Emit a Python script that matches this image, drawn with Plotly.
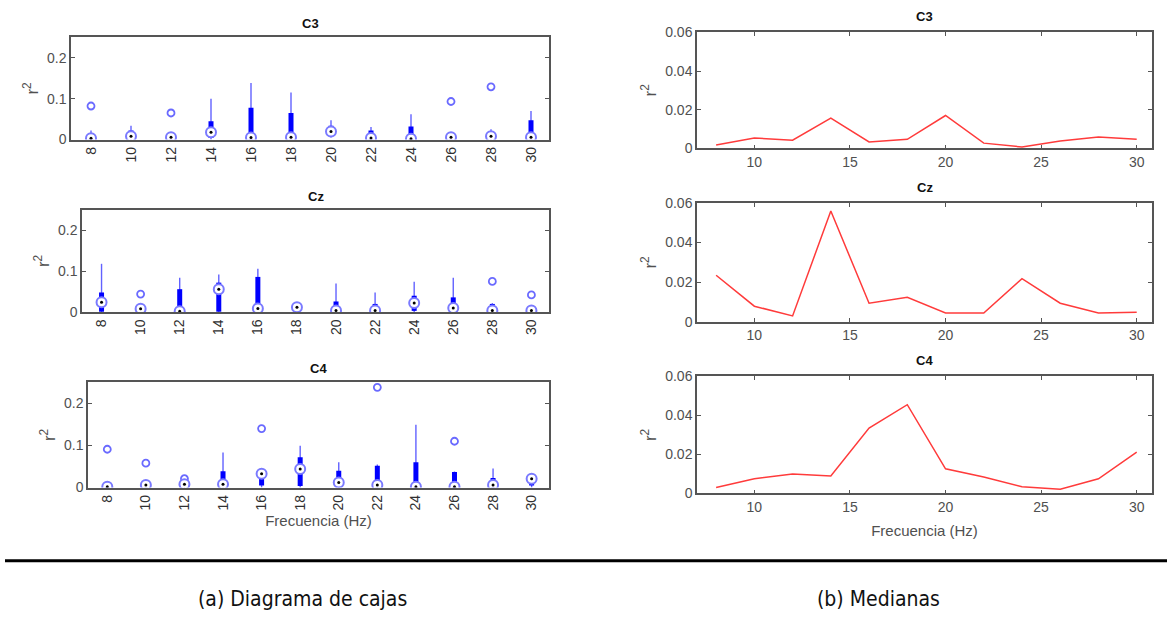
import plotly.graph_objects as go

W, H = 1167, 633

freqs = [8, 10, 12, 14, 16, 18, 20, 22, 24, 26, 28, 30]
freq_labels = [str(f) for f in freqs]
channels = ["C3", "Cz", "C4"]

# Box-plot statistics (left column)
c3_wlo = [0, 0, 0, 0, 0, 0, 0.005, 0, 0, 0, 0, 0]
c3_q1 = [0.0005, 0.002, 0.001, 0.004, 0.0005, 0.001, 0.01, 0.0005, 0, 0.001, 0.002, 0.001]
c3_med = [0.003, 0.008, 0.006, 0.018, 0.005, 0.006, 0.02, 0.004, 0.002, 0.006, 0.008, 0.006]
c3_q3 = [0.015, 0.022, 0.009, 0.045, 0.078, 0.065, 0.034, 0.022, 0.032, 0.01, 0.02, 0.047]
c3_whi = [0.022, 0.034, 0.012, 0.1, 0.138, 0.115, 0.047, 0.031, 0.062, 0.012, 0.025, 0.07]
c3_out_x = ["8", "12", "26", "28"]
c3_out_y = [0.082, 0.065, 0.093, 0.129]

cz_wlo = [0, 0, 0, 0, 0, 0, 0, 0, 0, 0, 0, 0]
cz_q1 = [0.001, 0.001, 0, 0.001, 0.001, 0.005, 0, 0, 0.003, 0.001, 0, 0]
cz_med = [0.024, 0.008, 0.002, 0.056, 0.009, 0.012, 0.004, 0.004, 0.022, 0.01, 0.004, 0.004]
cz_q3 = [0.048, 0.014, 0.056, 0.072, 0.086, 0.018, 0.026, 0.02, 0.04, 0.036, 0.02, 0.012]
cz_whi = [0.118, 0.018, 0.084, 0.092, 0.106, 0.024, 0.07, 0.048, 0.074, 0.084, 0.022, 0.014]
cz_out_x = ["10", "28", "30"]
cz_out_y = [0.044, 0.075, 0.042]

c4_wlo = [0, 0, 0, 0, 0, 0, 0, 0, 0, 0, 0, 0]
c4_q1 = [0, 0.001, 0.003, 0.002, 0.005, 0.004, 0.003, 0.001, 0, 0, 0, 0.005]
c4_med = [0.002, 0.006, 0.008, 0.008, 0.033, 0.044, 0.012, 0.006, 0.002, 0.002, 0.006, 0.021]
c4_q3 = [0.008, 0.01, 0.012, 0.039, 0.042, 0.072, 0.04, 0.052, 0.06, 0.037, 0.023, 0.027]
c4_whi = [0.01, 0.012, 0.014, 0.083, 0.045, 0.099, 0.06, 0.055, 0.149, 0.038, 0.045, 0.03]
c4_out_x = ["8", "10", "12", "16", "22", "26"]
c4_out_y = [0.091, 0.058, 0.021, 0.14, 0.238, 0.11]

# Medians (right column)
c3_median_line = [0.0017, 0.0054, 0.0042, 0.0157, 0.0033, 0.0047, 0.017, 0.0027, 0.0007, 0.0038, 0.0059, 0.0047]
cz_median_line = [0.0235, 0.0079, 0.003, 0.0559, 0.0094, 0.0124, 0.0045, 0.0045, 0.0218, 0.0094, 0.0045, 0.0048]
c4_median_line = [0.003, 0.0075, 0.01, 0.0089, 0.0335, 0.0455, 0.0126, 0.0084, 0.0034, 0.0022, 0.0075, 0.0212]

left_y_ticks = [0, 0.1, 0.2]
left_y_ticktext = ["0", "0.1", "0.2"]
right_y_ticks = [0, 0.02, 0.04, 0.06]
right_y_ticktext = ["0", "0.02", "0.04", "0.06"]
right_x_ticks = [10, 15, 20, 25, 30]

caption_a = "(a) Diagrama de cajas"
caption_b = "(b) Medianas"
xlabel = "Frecuencia (Hz)"

box_stats = [
    (c3_wlo, c3_q1, c3_med, c3_q3, c3_whi, c3_out_x, c3_out_y),
    (cz_wlo, cz_q1, cz_med, cz_q3, cz_whi, cz_out_x, cz_out_y),
    (c4_wlo, c4_q1, c4_med, c4_q3, c4_whi, c4_out_x, c4_out_y),
]
median_lines = [c3_median_line, cz_median_line, c4_median_line]

# pixel layout of axes boxes: (x0, x1, y0_top, y1_bottom)
left_boxes = [(71, 549, 30, 135), (82, 549, 207, 312), (88, 549, 384, 492)]
right_boxes = [(697, 1152, 25, 144), (697, 1152, 200, 322), (697, 1152, 378, 498)]


def px_dom_x(a, b):
    return [a / W, b / W]


def px_dom_y(top, bottom):
    return [1 - bottom / H, 1 - top / H]


def seg(xs, lo, hi):
    X, Y = [], []
    for x, a, b in zip(xs, lo, hi):
        X += [x, x, None]
        Y += [a, b, None]
    return X, Y


fig = go.Figure()
FONT = "Liberation Sans, Arial, sans-serif"
GRAY = "#505050"
AX = "#555555"

layout = dict(
    width=W, height=H, margin=dict(l=0, r=0, t=0, b=0),
    paper_bgcolor="white", plot_bgcolor="white", showlegend=False,
    font=dict(family=FONT, color=GRAY, size=14),
)
annotations = []

for i, (ch, stats) in enumerate(zip(channels, box_stats)):
    n = i + 1
    xa = "x" if n == 1 else f"x{n}"
    ya = "y" if n == 1 else f"y{n}"
    wlo, q1, med, q3, whi, ox, oy = stats
    X, Y = seg(freq_labels, wlo, whi)
    fig.add_trace(go.Scatter(x=X, y=Y, mode="lines", line=dict(color="#6262ff", width=1.4),
                             xaxis=xa, yaxis=ya, hoverinfo="skip"))
    X, Y = seg(freq_labels, q1, q3)
    fig.add_trace(go.Scatter(x=X, y=Y, mode="lines", line=dict(color="#0000ff", width=5),
                             xaxis=xa, yaxis=ya, hoverinfo="skip"))
    fig.add_trace(go.Scatter(x=ox, y=oy, mode="markers",
                             marker=dict(symbol="circle-open", size=7, color="#6a6aff",
                                         line=dict(width=1.8, color="#6a6aff")),
                             xaxis=xa, yaxis=ya))
    fig.add_trace(go.Scatter(x=freq_labels, y=med, mode="markers",
                             marker=dict(symbol="circle", size=10, color="white",
                                         line=dict(width=2, color="#7a7aff")),
                             xaxis=xa, yaxis=ya))
    fig.add_trace(go.Scatter(x=freq_labels, y=med, mode="markers",
                             marker=dict(symbol="circle", size=3, color="black"),
                             xaxis=xa, yaxis=ya))
    bx = left_boxes[i]
    xdict = dict(
        domain=px_dom_x(bx[0], bx[1]), anchor=ya, type="category",
        categoryorder="array", categoryarray=freq_labels,
        range=[-0.5, 11.45], tickangle=-90, ticks="", showline=True, linecolor=AX,
        linewidth=1.5, mirror=True, showgrid=False, zeroline=False,
        tickfont=dict(size=14, color="#303030"),
    )
    if i == 2:
        xdict["title"] = dict(text=xlabel, font=dict(size=15, color=GRAY), standoff=6)
    layout[f"xaxis{'' if n == 1 else n}"] = xdict
    layout[f"yaxis{'' if n == 1 else n}"] = dict(
        domain=px_dom_y(bx[2], bx[3]), anchor=xa, range=[0, 0.25],
        tickvals=left_y_ticks, ticktext=left_y_ticktext, ticks="inside", ticklen=4,
        tickcolor=AX, showline=True, linecolor=AX, linewidth=1.5, mirror="ticks",
        showgrid=False, zeroline=False, tickfont=dict(size=14, color=GRAY),
        title=dict(text="r<sup>2</sup>", font=dict(size=17, color=GRAY), standoff=4),
    )
    annotations.append(dict(text=f"<b>{ch}</b>", x=(bx[0] + bx[1]) / 2 / W, y=1 - (bx[2] - 14) / H,
                            xref="paper", yref="paper", showarrow=False,
                            font=dict(size=13, color="#111111"), xanchor="center", yanchor="middle"))

for i, (ch, vals) in enumerate(zip(channels, median_lines)):
    n = i + 4
    xa, ya = f"x{n}", f"y{n}"
    fig.add_trace(go.Scatter(x=freqs, y=vals, mode="lines", line=dict(color="#ff3b3b", width=1.5),
                             xaxis=xa, yaxis=ya))
    bx = right_boxes[i]
    xdict = dict(
        domain=px_dom_x(bx[0], bx[1]), anchor=ya, range=[7, 30.8],
        tickvals=right_x_ticks, ticks="inside", ticklen=4, tickcolor=AX,
        showline=True, linecolor=AX, linewidth=1.5, mirror="ticks",
        showgrid=False, zeroline=False, tickfont=dict(size=14, color=GRAY),
    )
    if i == 2:
        xdict["title"] = dict(text=xlabel, font=dict(size=15, color=GRAY), standoff=12)
    layout[f"xaxis{n}"] = xdict
    layout[f"yaxis{n}"] = dict(
        domain=px_dom_y(bx[2], bx[3]), anchor=xa, range=[0, 0.06],
        tickvals=right_y_ticks, ticktext=right_y_ticktext, ticks="inside", ticklen=4,
        tickcolor=AX, showline=True, linecolor=AX, linewidth=1.5, mirror="ticks",
        showgrid=False, zeroline=False, tickfont=dict(size=14, color=GRAY),
        title=dict(text="r<sup>2</sup>", font=dict(size=17, color=GRAY), standoff=4),
    )
    annotations.append(dict(text=f"<b>{ch}</b>", x=(bx[0] + bx[1]) / 2 / W, y=1 - (bx[2] - 16) / H,
                            xref="paper", yref="paper", showarrow=False,
                            font=dict(size=13, color="#111111"), xanchor="center", yanchor="middle"))

CAP_FONT = "DejaVu Sans Condensed, Liberation Sans Narrow, Roboto Condensed, Lato, sans-serif"
annotations.append(dict(text=caption_a, x=302 / W, y=1 - 606 / H, xref="paper", yref="paper",
                        showarrow=False, font=dict(family=CAP_FONT, size=21, color="#111111"),
                        xanchor="center", yanchor="middle"))
annotations.append(dict(text=caption_b, x=878 / W, y=1 - 606 / H, xref="paper", yref="paper",
                        showarrow=False, font=dict(family=CAP_FONT, size=21, color="#111111"),
                        xanchor="center", yanchor="middle"))

layout["annotations"] = annotations
layout["shapes"] = [dict(type="line", xref="paper", yref="paper", x0=5 / W, x1=1.0,
                         y0=1 - 567 / H, y1=1 - 567 / H, line=dict(color="black", width=3))]
fig.update_layout(**layout)
fig.write_html("out.html", config={"displayModeBar": False},
               post_script="document.body.style.margin='0';document.body.style.overflow='hidden';")
